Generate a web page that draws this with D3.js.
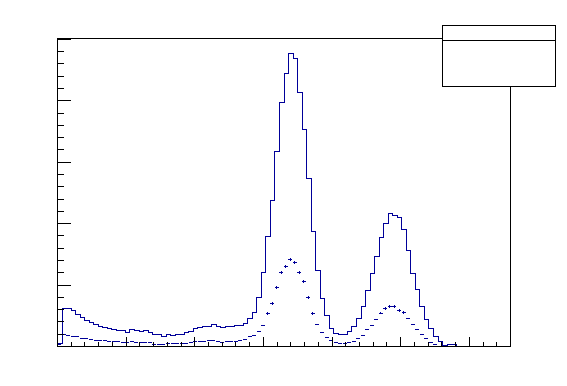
<!DOCTYPE html>
<html>
<head>
<meta charset="utf-8">
<script src="https://cdn.jsdelivr.net/npm/d3@7"></script>
<style>
  html, body { margin: 0; padding: 0; background: #fff; }
  svg { display: block; }
</style>
</head>
<body>
<div id="chart"></div>
<script>
// Histogram binning (100 bins over the axis range)
const xMin = 0, xMax = 6.6, nBins = 100;

// Solid histogram (bin contents)
const lineCounts = [
    44, 620, 615, 587, 517, 468, 419, 386, 354, 326,
    310, 293, 277, 261, 258, 223, 272, 256, 240, 256,
    223, 191, 190, 163, 191, 174, 191, 189, 228, 245,
    289, 305, 326, 327, 354, 326, 310, 331, 330, 347,
    338, 370, 452, 560, 799, 1202, 1783, 2377, 3176, 3980,
    4448, 4775, 4693, 4138, 3535, 2740, 1871, 1240, 788, 498,
    290, 207, 188, 190, 250, 321, 452, 648, 913, 1191,
    1463, 1773, 2000, 2165, 2137, 2100, 1910, 1565, 1186, 925,
    648, 440, 289, 158, 82, 21, 25, 25, 5, 3,
    2, 0, 0, 0, 0, 0, 0, 0, 0, 0
];

// Second histogram, drawn with error bars
const pointCounts = [
    38, 191, 174, 168, 163, 135, 135, 119, 98, 98,
    93, 86, 77, 77, 70, 60, 77, 60, 60, 60,
    60, 38, 38, 38, 54, 44, 44, 44, 54, 60,
    77, 77, 77, 93, 103, 82, 70, 86, 77, 82,
    101, 109, 163, 179, 240, 343, 538, 697, 958, 1202,
    1305, 1419, 1370, 1202, 1060, 799, 538, 359, 225, 142,
    95, 60, 54, 54, 60, 86, 135, 184, 272, 338,
    436, 543, 620, 652, 657, 587, 555, 457, 364, 282,
    191, 126, 70, 33, 5, 5, 5, 3, 3, 2,
    2, 0, 0, 0, 0, 0, 0, 0, 0, 0
];

// Axis divisions
const xMajor = [0, 1, 2, 3, 4, 5, 6];
const xMinorStep = 0.2;
const yMajor = [0, 1000, 2000, 3000, 4000, 5000];
const yMinorStep = 200;

const W = 567, H = 386;
const frame = { left: 57, top: 38, right: 510, bottom: 346 };
const color = "#000099";

const svg = d3.select("#chart").append("svg")
    .attr("width", W)
    .attr("height", H)
    .attr("viewBox", `0 0 ${W} ${H}`);

svg.append("rect").attr("width", W).attr("height", H).attr("fill", "#fff");

const yMax = 1.05 * d3.max(lineCounts);

const xScale = d3.scaleLinear().domain([xMin, xMax]).range([frame.left, frame.right]);
const yScale = d3.scaleLinear().domain([0, yMax]).range([frame.bottom, frame.top]);

const binW = (xMax - xMin) / nBins;
const binLow = d3.range(nBins).map((i) => xMin + i * binW);

const snap = (v) => Math.round(v) + 0.5;

// Solid step histogram
const pts = [];
lineCounts.forEach((v, i) => {
    pts.push([xScale(binLow[i]), yScale(v)]);
    pts.push([xScale(binLow[i] + binW), yScale(v)]);
});
svg.append("path")
    .attr("d", d3.line().x((d) => snap(d[0])).y((d) => snap(d[1])).curve(d3.curveLinear)(pts))
    .attr("fill", "none")
    .attr("stroke", color)
    .attr("stroke-width", 1)
    .attr("shape-rendering", "crispEdges");

// Error-bar histogram
const marks = svg.append("g")
    .attr("stroke", color)
    .attr("stroke-width", 1)
    .attr("shape-rendering", "crispEdges");

pointCounts.forEach((v, i) => {
    if (v <= 0) return;
    const cx = xScale(binLow[i] + binW / 2);
    const cy = yScale(v);
    const err = Math.sqrt(v) * 0.55;
    marks.append("line")
        .attr("x1", Math.round(cx - 2)).attr("x2", Math.round(cx + 2))
        .attr("y1", snap(cy)).attr("y2", snap(cy));
    if (yScale(v - err) - yScale(v + err) >= 1.5) {
        marks.append("line")
            .attr("x1", snap(cx - 0.5)).attr("x2", snap(cx - 0.5))
            .attr("y1", Math.round(yScale(v + err))).attr("y2", Math.round(yScale(v - err)) + 1);
    }
});

// Frame
svg.append("rect")
    .attr("x", frame.left + 0.5)
    .attr("y", frame.top + 0.5)
    .attr("width", frame.right - frame.left)
    .attr("height", frame.bottom - frame.top)
    .attr("fill", "none")
    .attr("stroke", "#000")
    .attr("stroke-width", 1)
    .attr("shape-rendering", "crispEdges");

// X axis ticks (no labels)
const xMinor = d3.range(xMin, xMax + 1e-9, xMinorStep)
    .filter((t) => !xMajor.some((m) => Math.abs(m - t) < 1e-6));
const xAxisMajor = d3.axisBottom(xScale).tickValues(xMajor).tickSize(-9).tickFormat("");
const xAxisMinor = d3.axisBottom(xScale).tickValues(xMinor).tickSize(-4.5).tickFormat("");

[xAxisMajor, xAxisMinor].forEach((ax) => {
    svg.append("g")
        .attr("transform", `translate(0,${frame.bottom})`)
        .call(ax)
        .call((g) => g.select(".domain").remove())
        .selectAll("line").attr("stroke", "#000").attr("shape-rendering", "crispEdges");
});

// Y axis ticks (no labels)
const yMinor = d3.range(0, yMax, yMinorStep)
    .filter((t) => !yMajor.includes(t));
const yAxisMajor = d3.axisLeft(yScale).tickValues(yMajor).tickSize(-13.5).tickFormat("");
const yAxisMinor = d3.axisLeft(yScale).tickValues(yMinor).tickSize(-6.5).tickFormat("");

[yAxisMajor, yAxisMinor].forEach((ax) => {
    svg.append("g")
        .attr("transform", `translate(${frame.left},0)`)
        .call(ax)
        .call((g) => g.select(".domain").remove())
        .selectAll("line").attr("stroke", "#000").attr("shape-rendering", "crispEdges");
});

// Stats box (empty)
const box = { x: 442, y: 25, w: 113, h: 61, split: 15 };
svg.append("rect")
    .attr("x", box.x + 0.5).attr("y", box.y + 0.5)
    .attr("width", box.w).attr("height", box.h)
    .attr("fill", "#fff").attr("stroke", "#000")
    .attr("shape-rendering", "crispEdges");
svg.append("line")
    .attr("x1", box.x).attr("x2", box.x + box.w)
    .attr("y1", box.y + box.split + 0.5).attr("y2", box.y + box.split + 0.5)
    .attr("stroke", "#000")
    .attr("shape-rendering", "crispEdges");
</script>
</body>
</html>
